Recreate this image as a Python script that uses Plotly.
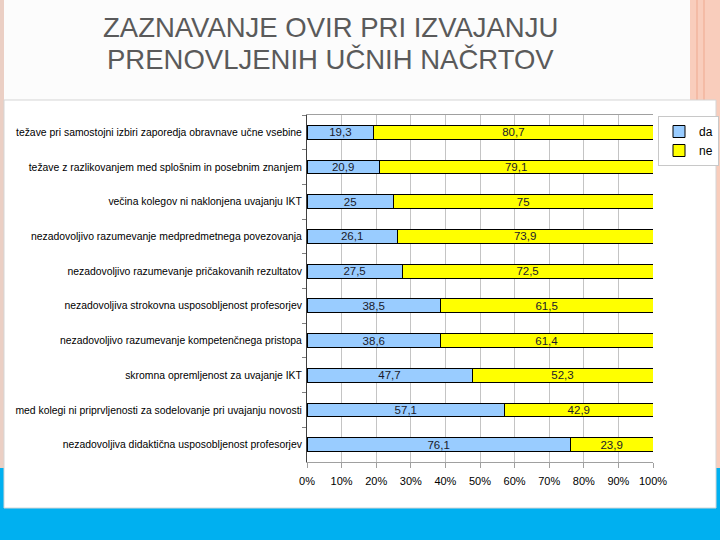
import plotly.graph_objects as go

categories = [
    "težave pri samostojni izbiri zaporedja obravnave učne vsebine",
    "težave z razlikovanjem med splošnim in posebnim znanjem",
    "večina kolegov ni naklonjena uvajanju IKT",
    "nezadovoljivo razumevanje medpredmetnega povezovanja",
    "nezadovoljivo razumevanje pričakovanih rezultatov",
    "nezadovoljiva strokovna usposobljenost profesorjev",
    "nezadovoljivo razumevanje kompetenčnega pristopa",
    "skromna opremljenost za uvajanje IKT",
    "med kolegi ni priprvljenosti za sodelovanje pri uvajanju novosti",
    "nezadovoljiva didaktična usposobljenost profesorjev",
]
da_values = [19.3, 20.9, 25, 26.1, 27.5, 38.5, 38.6, 47.7, 57.1, 76.1]
ne_values = [80.7, 79.1, 75, 73.9, 72.5, 61.5, 61.4, 52.3, 42.9, 23.9]
series_names = ["da", "ne"]
x_ticks = [0, 10, 20, 30, 40, 50, 60, 70, 80, 90, 100]
x_tick_labels = [f"{t}%" for t in x_ticks]
title_lines = ["ZAZNAVANJE OVIR PRI IZVAJANJU", "PRENOVLJENIH UČNIH NAČRTOV"]

W, H = 720, 540
FONT = "Liberation Sans, Arial, sans-serif"


def fx(px):
    return px / W


def fy(py):
    return 1 - py / H


def fmt(v):
    return f"{v:g}".replace(".", ",")


fig = go.Figure()
for name, vals, color in [(series_names[0], da_values, "#99CCFF"),
                          (series_names[1], ne_values, "#FFFF00")]:
    fig.add_trace(go.Bar(
        y=categories, x=vals, name=name, orientation="h",
        marker=dict(color=color, line=dict(color="#000000", width=1)),
        text=[fmt(v) for v in vals], textposition="inside",
        insidetextanchor="middle", textangle=0,
        textfont=dict(family=FONT, size=11.5, color="#1a1a2a"),
        constraintext="none", hoverinfo="x+y",
    ))

shapes = [
    # slide right decorative stripes
    dict(type="rect", xref="paper", yref="paper", x0=fx(690), x1=fx(720), y0=fy(470), y1=1,
         fillcolor="#F9CDBC", line=dict(width=0), layer="below"),
    dict(type="line", xref="paper", yref="paper", x0=fx(697), x1=fx(697), y0=fy(470), y1=1,
         line=dict(color="#EFA98F", width=1), layer="below"),
    dict(type="line", xref="paper", yref="paper", x0=fx(704), x1=fx(704), y0=fy(470), y1=1,
         line=dict(color="#EFA98F", width=1), layer="below"),
    # left thin stripe
    dict(type="rect", xref="paper", yref="paper", x0=0, x1=fx(4), y0=fy(470), y1=1,
         fillcolor="#EBCFC4", line=dict(width=0), layer="below"),
    # bottom blue band
    dict(type="rect", xref="paper", yref="paper", x0=0, x1=1, y0=0, y1=fy(468),
         fillcolor="#00B0F0", line=dict(width=0), layer="below"),
    # chart box
    dict(type="rect", xref="paper", yref="paper", x0=fx(4), x1=fx(716), y0=fy(508), y1=fy(100),
         fillcolor="#FFFFFF", line=dict(color="#D5D5D5", width=1), layer="below"),
]

title_y = [27, 59]
annotations = [
    dict(text=line, xref="paper", yref="paper", x=fx(330), y=fy(yy),
         xanchor="center", yanchor="middle", showarrow=False,
         font=dict(family=FONT, size=27.5, color="#5A5A5A"))
    for line, yy in zip(title_lines, title_y)
]

fig.update_layout(
    width=W, height=H,
    margin=dict(l=0, r=0, t=0, b=0, autoexpand=False),
    paper_bgcolor="#FCFCFC",
    plot_bgcolor="rgba(0,0,0,0)",
    barmode="stack",
    bargap=0.6,
    separators=",.",
    font=dict(family=FONT, size=12, color="#000000"),
    shapes=shapes,
    showlegend=True,
    legend=dict(
        x=fx(658), y=fy(116), xanchor="left", yanchor="top",
        bgcolor="#FFFFFF", bordercolor="#C8C8C8", borderwidth=1,
        font=dict(family=FONT, size=12, color="#000000"),
        itemwidth=30, tracegroupgap=2, traceorder="normal",
    ),
    annotations=annotations,
    xaxis=dict(
        domain=[fx(307), fx(653)], range=[0, 100],
        tickvals=x_ticks, ticktext=x_tick_labels,
        showgrid=True, gridcolor="#C4C4C4", gridwidth=1,
        showline=True, linecolor="#A0A0A0", linewidth=1, mirror=True,
        ticks="outside", ticklen=5, tickcolor="#A0A0A0", ticklabelstandoff=4,
        tickfont=dict(family=FONT, size=11, color="#000000"),
        zeroline=False, fixedrange=True, automargin=False,
    ),
    yaxis=dict(
        domain=[fy(462), fy(115)], autorange="reversed",
        showline=True, linecolor="#404040", linewidth=1,
        ticks="outside", ticklen=4, tickcolor="#808080", tickson="boundaries",
        ticklabelstandoff=2,
        tickfont=dict(family=FONT, size=10.4, color="#000000"),
        showgrid=False, fixedrange=True, automargin=False,
    ),
)

fig.write_html(
    "out.html",
    config={"displayModeBar": False},
    post_script="document.body.style.margin='0';document.body.style.overflow='hidden';",
)
